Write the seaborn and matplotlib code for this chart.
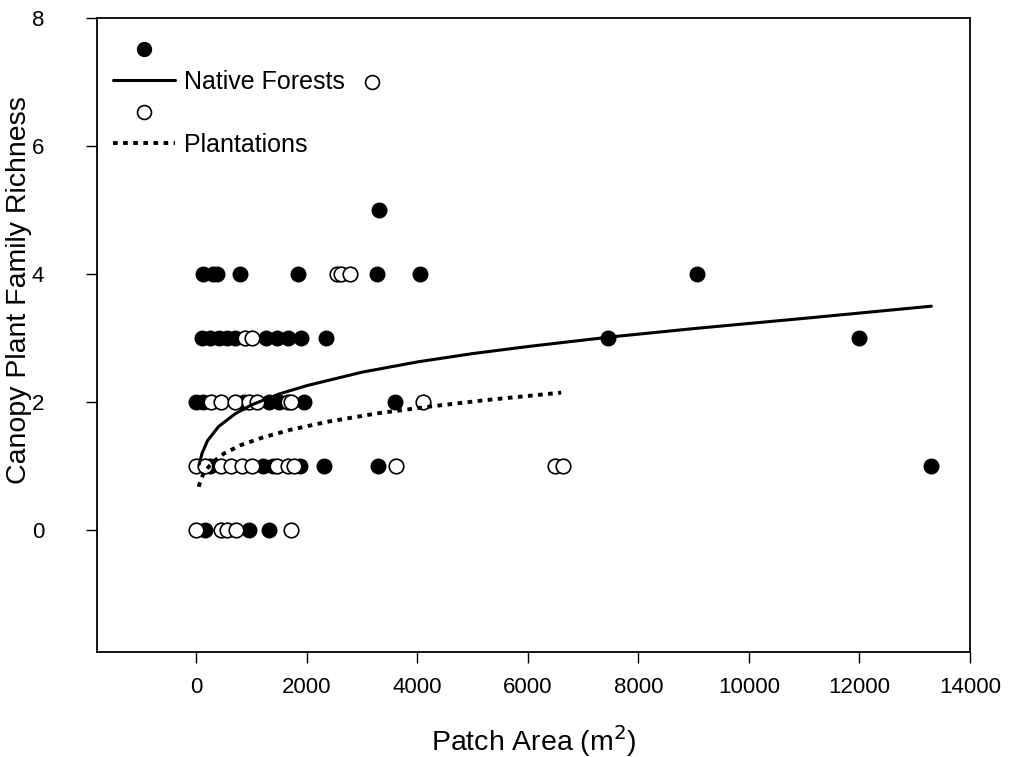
import numpy as np
import pandas as pd
import matplotlib
matplotlib.use("Agg")
import matplotlib.pyplot as plt
from matplotlib.lines import Line2D
import seaborn as sns

# ---------------- data ----------------
native_x = [150, 950, 1320,
            250, 1200, 1380, 1870, 2300, 3280, 13300,
            0, 120, 860, 1320, 1500, 1950, 3590,
            100, 250, 400, 550, 700, 1250, 1450, 1650, 1900, 2350, 7450, 12000,
            110, 300, 380, 780, 1830, 3260, 4040, 9060,
            3300]
native_y = [0, 0, 0,
            1, 1, 1, 1, 1, 1, 1,
            2, 2, 2, 2, 2, 2, 2,
            3, 3, 3, 3, 3, 3, 3, 3, 3, 3, 3, 3,
            4, 4, 4, 4, 4, 4, 4, 4,
            5]

plant_x = [0, 450, 550, 720, 1720,
           0, 150, 450, 630, 820, 1000, 1450, 1650, 1770, 3620, 6490, 6630,
           270, 450, 700, 960, 1100, 1650, 1720, 4100,
           870, 1000,
           2540, 2620, 2770]
plant_y = [0, 0, 0, 0, 0,
           1, 1, 1, 1, 1, 1, 1, 1, 1, 1, 1, 1,
           2, 2, 2, 2, 2, 2, 2, 2,
           3, 3,
           4, 4, 4]

# fitted regression curves
native_fit_x = [50, 100, 200, 400, 700, 1000, 1500, 2000, 3000, 4000, 5000,
                6000, 7500, 9000, 11000, 13300]
native_fit_y = [1.03, 1.20, 1.40, 1.62, 1.82, 1.96, 2.13, 2.26, 2.47, 2.63, 2.76,
                2.87, 3.02, 3.15, 3.31, 3.50]
plant_fit_x = [40, 80, 150, 300, 500, 800, 1200, 1700, 2400, 3300, 4200, 5200, 6600]
plant_fit_y = [0.68, 0.80, 0.92, 1.07, 1.20, 1.33, 1.45, 1.57, 1.70, 1.83, 1.93, 2.03, 2.15]

legend_labels = ["Native Forests", "Plantations"]
x_label = "Patch Area (m$^2$)"
y_label = "Canopy Plant Family Richness"
x_ticks = [0, 2000, 4000, 6000, 8000, 10000, 12000, 14000]
y_ticks = [0, 2, 4, 6, 8]

# ---------------- plot ----------------
sns.set_theme(style="ticks")
plt.rcParams["font.family"] = ["Liberation Sans", "DejaVu Sans"]
plt.rcParams.update({"text.color": "black", "axes.labelcolor": "black",
                     "xtick.color": "black", "ytick.color": "black",
                     "axes.edgecolor": "black"})

fig = plt.figure(figsize=(10.10, 7.57), dpi=100)
ax = fig.add_axes([97 / 1010, 1 - 652 / 757, (970 - 97) / 1010, (652 - 18) / 757])

nat = pd.DataFrame({"x": native_x, "y": native_y})
pla = pd.DataFrame({"x": plant_x, "y": plant_y})
nfit = pd.DataFrame({"x": native_fit_x, "y": native_fit_y})
pfit = pd.DataFrame({"x": plant_fit_x, "y": plant_fit_y})

sns.scatterplot(data=nat, x="x", y="y", ax=ax, s=110, color="black",
                edgecolor="black", linewidth=1.0, zorder=3, legend=False)
sns.scatterplot(data=pla, x="x", y="y", ax=ax, s=110, color="white",
                edgecolor="black", linewidth=1.2, zorder=4, legend=False)
sns.lineplot(data=nfit, x="x", y="y", ax=ax, color="black", lw=2.2,
             sort=True, estimator=None, zorder=5, legend=False)
sns.lineplot(data=pfit, x="x", y="y", ax=ax, color="black", lw=2.8,
             sort=True, estimator=None, zorder=5, legend=False)
ax.lines[-1].set_linestyle((0, (1.2, 1.4)))

ax.set_xlim(-1800, 14000)
ax.set_ylim(-1.9, 8)
ax.set_xticks(x_ticks)
ax.set_yticks(y_ticks)
ax.set_xticklabels([str(t) for t in x_ticks])
ax.set_yticklabels([str(t) for t in y_ticks])
ax.tick_params(axis="both", direction="out", length=8, width=1.0,
               colors="black", labelsize=16)
ax.tick_params(axis="y", pad=30)
ax.tick_params(axis="x", pad=10)
for sp in ax.spines.values():
    sp.set_visible(True)
    sp.set_color("black")
    sp.set_linewidth(1.3)
ax.set_xlabel(x_label, fontsize=20.5, color="black")
ax.set_ylabel(y_label, fontsize=20.5, color="black")
ax.xaxis.set_label_coords(0.5, -0.112)
ax.yaxis.set_label_coords(-0.074, 0.571)
ax.grid(False)

handles = [
    Line2D([], [], ls="none", marker="o", ms=10, mfc="black", mec="black"),
    Line2D([], [], color="black", lw=2.2),
    Line2D([], [], ls="none", marker="o", ms=10, mfc="white", mec="black", mew=1.2),
    Line2D([], [], color="black", lw=2.8, ls=(0, (1.2, 1.4))),
]
leg = ax.legend(handles, [" ", legend_labels[0], " ", legend_labels[1]],
                loc="upper left", bbox_to_anchor=(0.0, 1.0 - 5 / 634), frameon=False,
                fontsize=18, handlelength=2.48, handletextpad=0.4,
                labelspacing=0.3, borderaxespad=0.25, borderpad=0.37)
for t in leg.get_texts():
    t.set_color("black")
# stray symbol that sits to the right of the first legend label in the original
ax.plot([0.315], [0.899], transform=ax.transAxes, ls="none", marker="o",
        ms=10, mfc="white", mec="black", mew=1.2, clip_on=False)

fig.savefig("out.png", dpi=100)
